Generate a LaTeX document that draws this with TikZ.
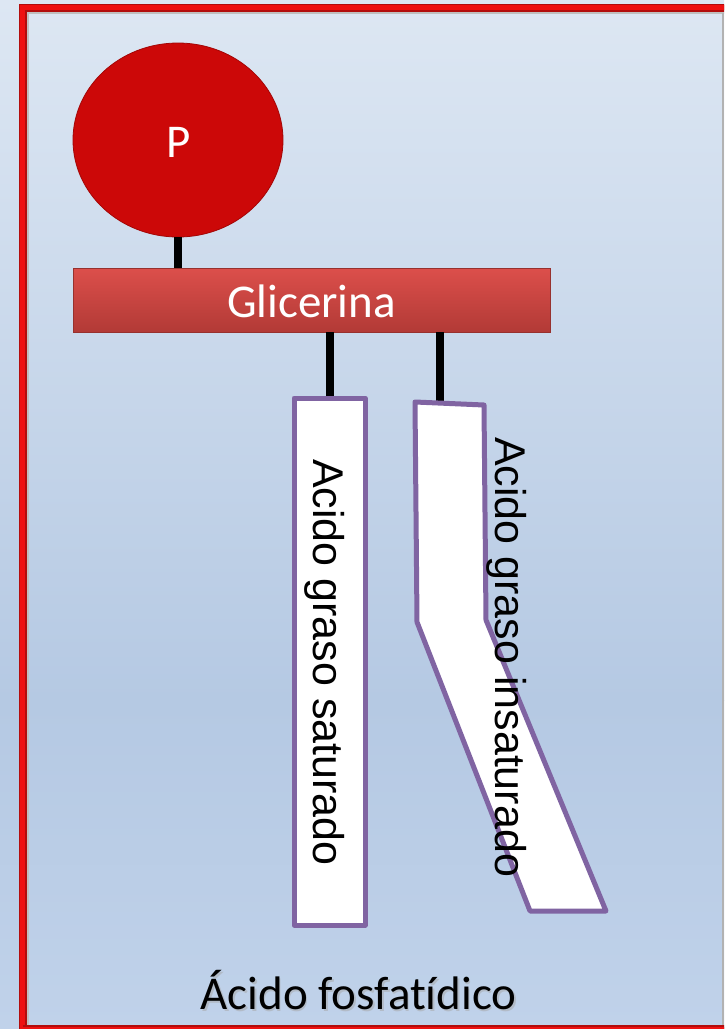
\documentclass[tikz,border=0pt]{standalone}
\usepackage{fontspec}
\setmainfont[Ligatures=NoCommon]{Carlito}
\newfontfamily\arialf{Liberation Sans}
\usetikzlibrary{shapes.geometric}
\definecolor{bgtop}{HTML}{DDE7F3}
\definecolor{bgmid}{HTML}{B5C9E3}
\definecolor{bgbot}{HTML}{C0D2EA}
\definecolor{framered}{HTML}{EE1111}
\definecolor{pred}{HTML}{CC0808}
\definecolor{bartop}{HTML}{DC4F4B}
\definecolor{barbot}{HTML}{B23A36}
\definecolor{acid}{HTML}{8064A2}
\tikzset{
  bond/.style={line width=7.5pt, black},
  acidbox/.style={draw=acid, line width=5pt, fill=white, line join=round},
  bigtext/.style={font=\fontsize{47}{56}\selectfont, inner sep=0pt},
  acidtext/.style={font=\arialf\fontsize{43}{50}\selectfont, inner sep=0pt, rotate=-90, anchor=base west},
}
\begin{document}
\begin{tikzpicture}[x=1pt,y=-1pt]
\useasboundingbox (0,0) rectangle (724,1029);
\begin{scope}
\clip (0,0) rectangle (724,1029);
% background
\shade[top color=bgtop, bottom color=bgmid] (0,0) rectangle (724,700);
\shade[top color=bgmid, bottom color=bgbot] (0,700) rectangle (724,1029.5);
% inner shadow lines
\draw[black!25, line width=2.5pt] (27.5,1029) -- (27.5,13) -- (735,13);
\draw[black!30, line width=1.5pt] (723,13) -- (723,1029);
% frame
\draw[framered!75!black, line width=8pt] (22.5,1035) -- (22.5,7.5) -- (740,7.5);
\draw[framered, line width=5pt] (22.5,1035) -- (22.5,7.5) -- (740,7.5);
\draw[framered!75!black, line width=8pt] (22.5,1029) -- (740,1029);
\draw[framered, line width=5pt] (22.5,1029) -- (740,1029);
\end{scope}

% phosphate
\node[ellipse, minimum width=210pt, minimum height=194pt, fill=pred, draw=pred!80!black, line width=0.8pt, inner sep=0pt] (P) at (178,140) {};
\node[bigtext, text=white, anchor=base] (Ptxt) at (179,157) {P};

% glycerol bar
\node[rectangle, minimum width=477pt, minimum height=64pt, top color=bartop, bottom color=barbot, draw=barbot!85!black, line width=0.6pt, inner sep=0pt] (gli) at (311.5,300) {};
\node[bigtext, text=white, anchor=base] (glitxt) at (311.5,317) {Glicerina};

% bonds
\coordinate (b1) at (330,332);
\coordinate (b2) at (440,332);
\coordinate (s1) at (330,398);
\coordinate (s2) at (440,403);
\draw[bond] (P.south) -- (gli.north -| P.south);
\draw[bond] (b1) -- (s1);
\draw[bond] (b2) -- (s2);

% saturated fatty acid
\node[acidbox, rectangle, minimum width=71pt, minimum height=527pt, inner sep=0pt] (sat) at (329.5,661.5) {};
\node[acidtext] (sattxt) at (313,459) {Acido graso saturado};

% unsaturated fatty acid
\coordinate (u1) at (415,402);
\coordinate (u2) at (484,405);
\coordinate (u3) at (486,620);
\coordinate (u4) at (606,911);
\coordinate (u5) at (530,911);
\coordinate (u6) at (417,622);
\draw[acidbox] (u1) -- (u2) -- (u3) -- (u4) -- (u5) -- (u6) -- cycle;
\node[acidtext] (insattxt) at (495,437) {Acido graso insaturado};

% title
\node[bigtext, text=black!35, opacity=0.5, anchor=base] at (360,1011.5) {Ácido fosfatídico};
\node[bigtext, anchor=base] (title) at (358.5,1009.5) {Ácido fosfatídico};
\end{tikzpicture}
\end{document}
